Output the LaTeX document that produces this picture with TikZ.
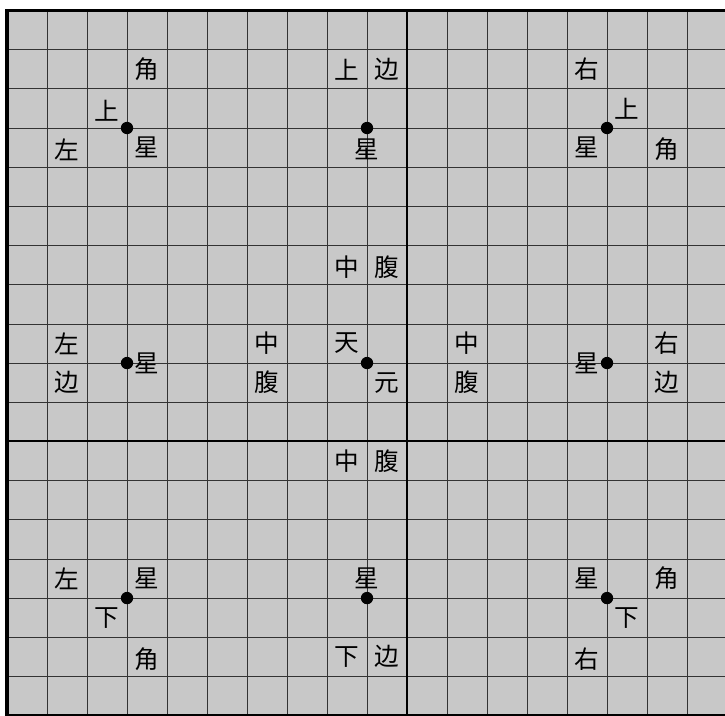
\documentclass[tikz,border=0pt]{standalone}
\usepackage{fontspec}
\newfontfamily\cjk{Noto Sans CJK SC}
\usepackage{tikz}
\definecolor{boardgray}{RGB}{200,200,200}
\tikzset{
  board-line/.style={line width=0.6pt, black!80},
  board-mid/.style={line width=1.6pt, black},
  board-edge/.style={line width=2.6pt, black},
  board-stone/.style={circle, fill=black, inner sep=0pt, minimum size=0.37cm},
  board-label/.style={font=\cjk\fontsize{21}{21}\selectfont, inner sep=0pt}
}

\begin{document}
\begin{tikzpicture}[x=1.2cm, y=-1.1751cm]
  \useasboundingbox (-0.175,-0.268) rectangle (17.95,18.01);

  % Board and grid
  \fill[boardgray] (0,0) rectangle (18,18);
  \foreach \i in {1,...,17} {
    \draw[board-line] (\i,0) -- (\i,18);
    \draw[board-line] (0,\i) -- (18,\i);
  }
  \draw[board-mid] (10,0) -- (10,18);
  \draw[board-mid] (0,11) -- (18,11);
  \draw[board-edge] (0,0) rectangle (18,18);

  % Star points
  \foreach \i in {3,9,15} {
    \foreach \j in {3,9,15} {
      \node[board-stone] (star-\i-\j) at (\i,\j) {};
    }
  }

  % Upper left corner
  \node[board-label] (ul-jiao) at (3.5,1.5) {角};
  \node[board-label] (ul-shang) at (2.5,2.55) {上};
  \node[board-label] (ul-xing) at (3.5,3.5) {星};
  \node[board-label] (ul-zuo) at (1.5,3.55) {左};

  % Upper side
  \node[board-label] (us-shang) at (8.5,1.5) {上};
  \node[board-label] (us-bian) at (9.5,1.5) {边};
  \node[board-label] (us-xing) at (9,3.55) {星};

  % Upper right corner
  \node[board-label] (ur-you) at (14.5,1.5) {右};
  \node[board-label] (ur-shang) at (15.5,2.5) {上};
  \node[board-label] (ur-xing) at (14.5,3.5) {星};
  \node[board-label] (ur-jiao) at (16.5,3.55) {角};

  % Centre area
  \node[board-label] (cu-zhong) at (8.5,6.55) {中};
  \node[board-label] (cu-fu) at (9.5,6.55) {腹};
  \node[board-label] (cl-zhong) at (6.5,8.5) {中};
  \node[board-label] (cl-fu) at (6.5,9.5) {腹};
  \node[board-label] (tian) at (8.5,8.5) {天};
  \node[board-label] (yuan) at (9.5,9.5) {元};
  \node[board-label] (cr-zhong) at (11.5,8.5) {中};
  \node[board-label] (cr-fu) at (11.5,9.5) {腹};
  \node[board-label] (cd-zhong) at (8.5,11.5) {中};
  \node[board-label] (cd-fu) at (9.5,11.5) {腹};

  % Left and right sides
  \node[board-label] (ls-zuo) at (1.5,8.5) {左};
  \node[board-label] (ls-bian) at (1.5,9.5) {边};
  \node[board-label] (ls-xing) at (3.5,9) {星};
  \node[board-label] (rs-xing) at (14.5,9) {星};
  \node[board-label] (rs-you) at (16.5,8.5) {右};
  \node[board-label] (rs-bian) at (16.5,9.5) {边};

  % Lower left corner
  \node[board-label] (ll-zuo) at (1.5,14.5) {左};
  \node[board-label] (ll-xing) at (3.5,14.5) {星};
  \node[board-label] (ll-xia) at (2.5,15.5) {下};
  \node[board-label] (ll-jiao) at (3.5,16.55) {角};

  % Lower side
  \node[board-label] (ds-xing) at (9,14.5) {星};
  \node[board-label] (ds-xia) at (8.5,16.5) {下};
  \node[board-label] (ds-bian) at (9.5,16.5) {边};

  % Lower right corner
  \node[board-label] (lr-xing) at (14.5,14.5) {星};
  \node[board-label] (lr-jiao) at (16.5,14.5) {角};
  \node[board-label] (lr-xia) at (15.5,15.5) {下};
  \node[board-label] (lr-you) at (14.5,16.55) {右};
\end{tikzpicture}
\end{document}
